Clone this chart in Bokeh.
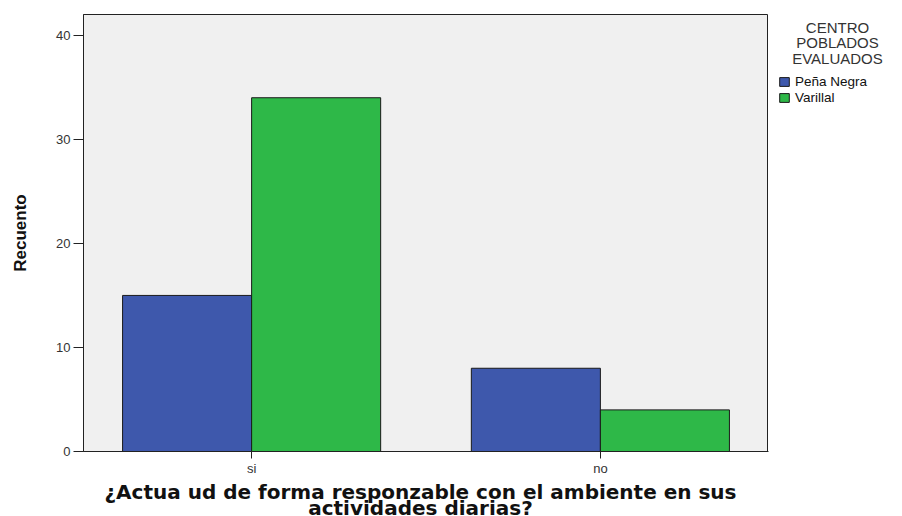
from bokeh.plotting import figure
from bokeh.layouts import row, column
from bokeh.models import FactorRange, ColumnDataSource, Legend, LegendItem, Label, FixedTicker, Range1d
from bokeh.transform import dodge
from bokeh.embed import file_html
from bokeh.resources import INLINE

categories = ["si", "no"]
series_names = ["Peña Negra", "Varillal"]
pena_negra = [15, 8]
varillal = [34, 4]
y_ticks = [0, 10, 20, 30, 40]
x_title = ["¿Actua ud de forma responzable con el ambiente en sus", "actividades diarias?"]
y_title = "Recuento"
legend_title = ["CENTRO", "POBLADOS", "EVALUADOS"]
colors = ["#3E58AC", "#2EB848"]

TOP_H = 481
FRAME_TOP = 14
FRAME_BOTTOM = 451

src = ColumnDataSource(dict(cat=categories, a=pena_negra, b=varillal))

xr = FactorRange(*categories, range_padding=-0.018, range_padding_units="absolute")
p = figure(width=768, height=TOP_H, x_range=xr, y_range=(0, 42),
           output_backend="svg", toolbar_location=None,
           min_border_left=83, min_border_right=0, min_border_top=FRAME_TOP,
           min_border_bottom=TOP_H - FRAME_BOTTOM)
p.border_fill_color = "white"
p.background_fill_color = "#F0F0F0"
p.outline_line_color = "#222222"
p.outline_line_width = 1

w = 0.37
p.vbar(x=dodge("cat", -w / 2, range=p.x_range), top="a", width=w, source=src,
       fill_color=colors[0], line_color="#1a1a1a", line_width=1)
p.vbar(x=dodge("cat", w / 2, range=p.x_range), top="b", width=w, source=src,
       fill_color=colors[1], line_color="#1a1a1a", line_width=1)

p.xgrid.visible = False
p.ygrid.visible = False

p.yaxis.ticker = FixedTicker(ticks=y_ticks)
p.yaxis.minor_tick_line_color = None
p.yaxis.major_tick_out = 10
p.yaxis.major_tick_in = 0
p.yaxis.major_label_standoff = 3
p.xaxis.major_tick_out = 7
p.xaxis.major_tick_in = 0
p.xaxis.major_label_standoff = 2
for ax in (p.xaxis, p.yaxis):
    ax.axis_line_color = "#222222"
    ax.major_tick_line_color = "#222222"
    ax.major_label_text_font = "Liberation Sans"
    ax.major_label_text_font_size = "13px"
    ax.major_label_text_color = "#333333"

p.yaxis.axis_label = y_title
p.yaxis.axis_label_text_font = "Liberation Sans"
p.yaxis.axis_label_text_font_style = "bold"
p.yaxis.axis_label_text_font_size = "17px"
p.yaxis.axis_label_text_color = "#111111"
p.yaxis.axis_label_standoff = 23

# legend panel to the right of the chart (its frame is aligned with the chart frame)
LW = 134
lf = figure(width=LW, height=TOP_H, x_range=Range1d(0, LW), y_range=Range1d(-FRAME_BOTTOM, -FRAME_TOP),
            output_backend="svg", toolbar_location=None,
            x_axis_location=None, y_axis_location=None,
            min_border=0, min_border_left=0, min_border_right=0,
            min_border_top=FRAME_TOP, min_border_bottom=TOP_H - FRAME_BOTTOM)
lf.outline_line_color = None
lf.background_fill_color = "white"
lf.border_fill_color = "white"
lf.xgrid.visible = False
lf.ygrid.visible = False
# legend swatches (kept off-screen; only their legend glyphs show)
g1 = lf.vbar(x=[-500], top=[-2000], bottom=[-2001], width=1,
             fill_color=colors[0], line_color="#1a1a1a", line_width=1)
g2 = lf.vbar(x=[-500], top=[-2000], bottom=[-2001], width=1,
             fill_color=colors[1], line_color="#1a1a1a", line_width=1)

legend = Legend(items=[LegendItem(label=series_names[0], renderers=[g1]),
                       LegendItem(label=series_names[1], renderers=[g2])],
                location=(10, FRAME_BOTTOM - 105), orientation="vertical")
legend.background_fill_alpha = 0
legend.border_line_color = None
legend.padding = 0
legend.margin = 0
legend.spacing = 0
legend.glyph_width = 12
legend.glyph_height = 11
legend.label_height = 16
legend.label_standoff = 5
legend.label_text_font = "Liberation Sans"
legend.label_text_font_size = "13.5px"
legend.label_text_color = "#111111"
lf.add_layout(legend)

for i, t in enumerate(legend_title):
    lf.add_layout(Label(x=69, y=-(26.5 + 15.5 * i), text=t,
                        text_align="center", text_baseline="middle",
                        text_font="Liberation Sans", text_font_size="15px", text_color="#333333"))

# x-axis title strip below the chart
BH = 35
tf = figure(width=768 + LW, height=BH, x_range=Range1d(0, 768 + LW), y_range=Range1d(0, BH),
            output_backend="svg", toolbar_location=None,
            x_axis_location=None, y_axis_location=None,
            min_border=0, min_border_left=0, min_border_right=0, min_border_top=0, min_border_bottom=0)
tf.outline_line_color = None
tf.background_fill_color = "white"
tf.border_fill_color = "white"
tf.xgrid.visible = False
tf.ygrid.visible = False
for i, t in enumerate(x_title):
    tf.add_layout(Label(x=420, y=BH - 10.5 - 15.5 * i, text=t,
                        text_align="center", text_baseline="middle",
                        text_font="DejaVu Sans", text_font_style="bold",
                        text_font_size="20px", text_color="#111111"))

layout = column(row(p, lf, spacing=0), tf, spacing=0)
open("out.html", "w").write(file_html(layout, INLINE))
